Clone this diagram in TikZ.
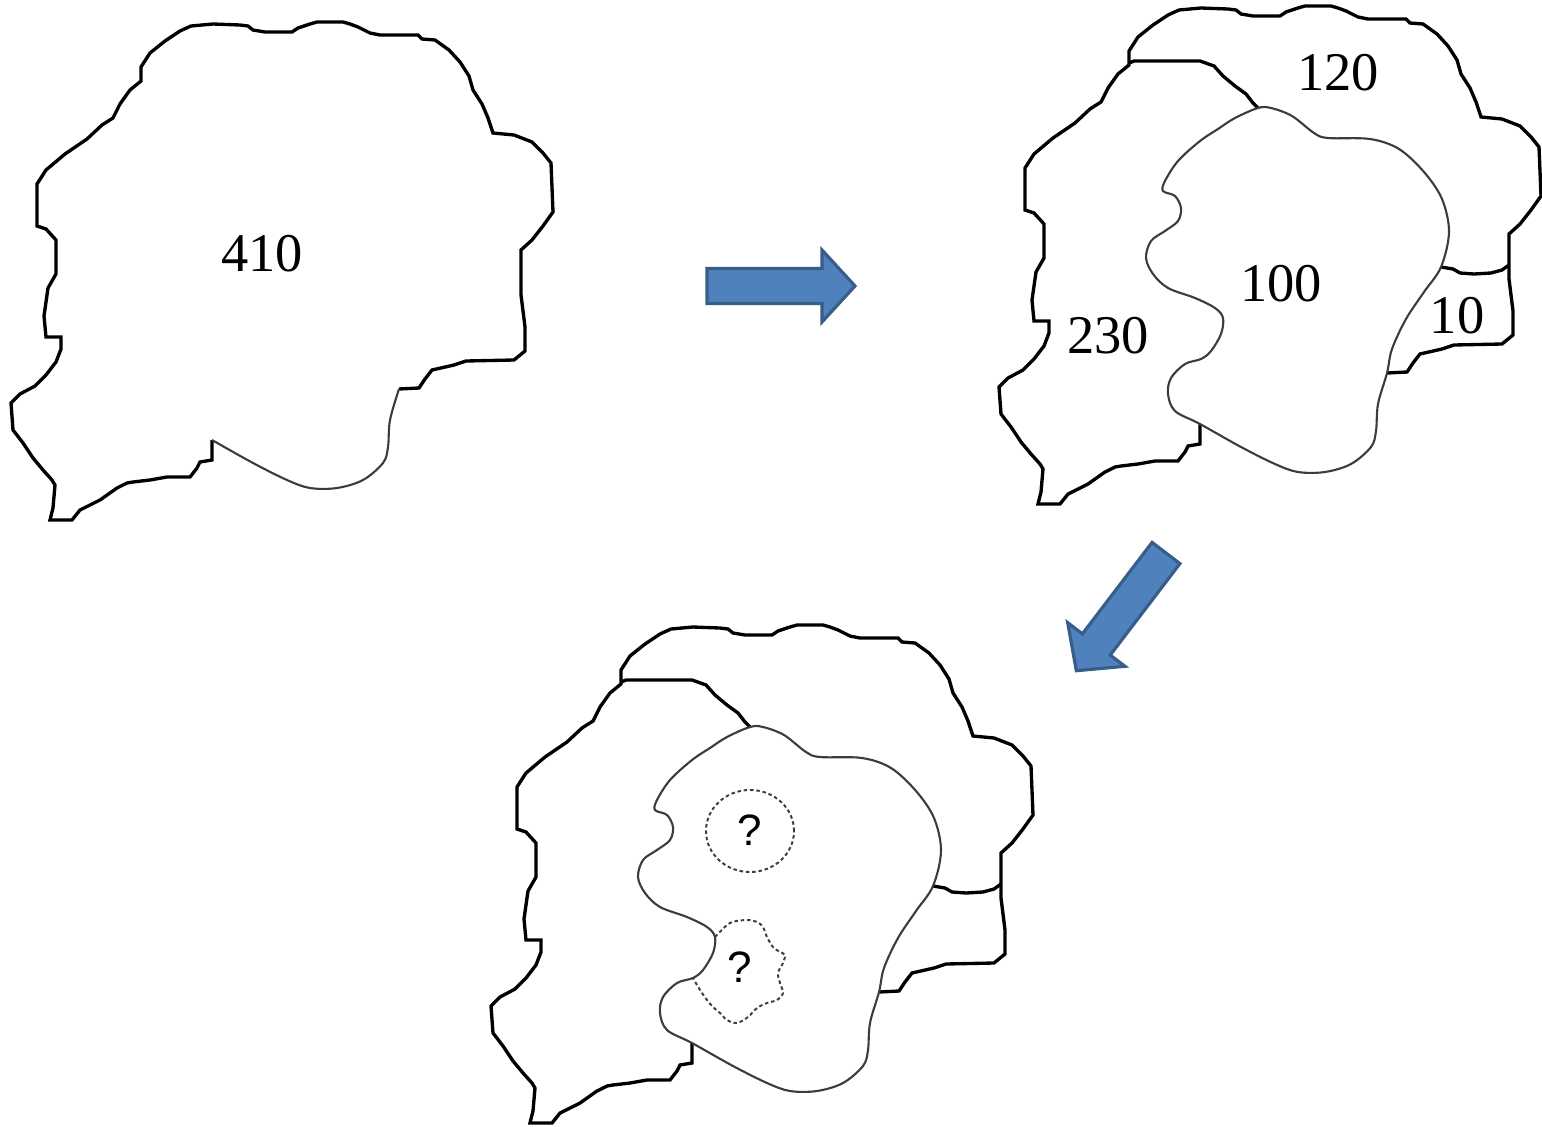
\documentclass[tikz,border=0pt]{standalone}
\usepackage{fontspec}
\setmainfont{Liberation Serif}
\setsansfont{Liberation Sans}
\usepackage{tikz}
\definecolor{arrowblue}{RGB}{79,129,189}
\definecolor{arrowedge}{RGB}{56,93,138}
\definecolor{lakegrey}{RGB}{60,60,60}
\tikzset{
  rim/.style={draw=black,line width=0.95pt},
  lake/.style={draw=lakegrey,line width=0.6pt},
  guess/.style={draw=lakegrey,line width=0.55pt,dash pattern=on 1pt off 0.8pt},
  count/.style={inner sep=0pt,font=\fontsize{15.5}{18}\selectfont},
  ask/.style={inner sep=0pt,font=\sffamily\fontsize{12.5}{15}\selectfont},
  bigarrow/.style={fill=arrowblue,draw=arrowedge,line width=0.9pt}
}
% outer catchment border, open where the lake cuts it
\newcommand{\basinrim}{%
  \draw[rim] (212,440) -- (212,460) -- (200,462) -- (197,468) -- (190,477)
    -- (167,477) -- (150,480) -- (133,482) -- (127,483) -- (117,488)
    -- (100,500) -- (80,510) -- (72,520) -- (50,520) -- (53,508) -- (55,485)
    -- (52,480) -- (43,470) -- (33,458) -- (23,443) -- (13,430) -- (11,403)
    -- (20,394) -- (35,386) -- (46,375) -- (56,362) -- (61,349) -- (61,337)
    -- (46,337) -- (44,316) -- (48,288) -- (56,274) -- (56,240) -- (46,229)
    -- (37,226) -- (37,184) -- (46,170) -- (65,154) -- (87,139) -- (102,125)
    -- (113,118) -- (120,104) -- (130,90) -- (141,81) -- (141,67) -- (150,53)
    -- (165,41) -- (180,31) -- (191,26) -- (213,24) -- (240,25) -- (248,26)
    -- (253,30) -- (265,32) -- (292,32) -- (298,28) -- (310,24) -- (317,22)
    -- (343,22) -- (350,24) -- (358,27) -- (370,33) -- (380,35) -- (418,35)
    -- (422,39) -- (435,40) -- (449,50) -- (460,62) -- (469,76) -- (473,90)
    -- (482,104) -- (488,118) -- (493,133) -- (514,135) -- (532,142)
    -- (543,153) -- (551,163) -- (553,212) -- (543,226) -- (532,240)
    -- (521,250) -- (521,295) -- (525,327) -- (525,351) -- (514,360)
    -- (466,361) -- (454,365) -- (432,370) -- (425,379) -- (419,388)
    -- (399,389);}
% inner sub-basin borders
\newcommand{\basinsplit}{%
  \draw[rim] (141,79) -- (146,77) -- (212,77) -- (226,82) -- (235,92)
    -- (247,102) -- (258,110) -- (265,119) -- (270,124);
  \draw[rim] (453,283) -- (465,285) -- (472,289) -- (486,290) -- (503,289)
    -- (514,286) -- (521,281);}
% the lake
\newcommand{\drawlake}{%
  \draw[lake] plot[smooth cycle,tension=0.55] coordinates {
    (270,124) (283,124) (304,132) (326,149) (340,154) (382,155) (411,165)
    (436,188) (454,215) (461,248) (453,283) (436,308) (418,335) (404,365)
    (399,389) (390,420) (388,447) (383,463) (363,480) (337,488) (310,488)
    (287,480) (253,463) (212,440) (187,427) (180,410) (183,394) (197,380)
    (213,375) (223,367) (233,350) (235,334) (227,324) (207,314) (180,304)
    (165,290) (158,274) (163,257) (177,247) (190,237) (193,224) (187,212)
    (175,207) (177,197) (190,177) (212,157) (230,145) (247,134)};}
\newcommand{\blockarrow}{%
  \draw[bigarrow] (0,-17.5) -- (115,-17.5) -- (115,-36) -- (148,0)
    -- (115,36) -- (115,17.5) -- (0,17.5) -- cycle;}

\begin{document}
\begin{tikzpicture}[x=0.01cm,y=-0.01cm]
  \useasboundingbox (0,0) rectangle (1542,1127);

  % first stage: the whole basin
  \basinrim
  \draw[lake] plot[smooth,tension=0.55] coordinates {
    (399,389) (390,420) (388,447) (383,463) (363,480) (337,488) (310,488)
    (287,480) (253,463) (212,440)};
  \node[count] (n410) at (262,254) {410};

  % second stage: split into sub-basins
  \begin{scope}[shift={(988,-16)}]
    \basinrim
    \basinsplit
    \drawlake
    \node[count] (n120) at (350,89) {120};
    \node[count] (n100) at (293,300) {100};
    \node[count] (n230) at (120,352) {230};
    \node[count] (n10) at (469,332) {10};
  \end{scope}

  % third stage: unknown parts inside the lake
  \begin{scope}[shift={(480,603)}]
    \basinrim
    \basinsplit
    \drawlake
    \draw[guess] (270,228) ellipse [x radius=0.44cm,y radius=0.41cm];
    \draw[guess] plot[smooth,tension=0.55] coordinates {
      (235,334) (250,320) (267,317) (277,319) (283,324) (287,334) (293,344)
      (300,349) (305,352) (303,360) (298,370) (300,380) (303,390) (297,397)
      (287,400) (277,405) (268,414) (257,420) (247,417) (240,410) (233,404)
      (227,397) (220,387) (213,375)};
    \node[ask] (q1) at (270,227) {?};
    \node[ask] (q2) at (260,364) {?};
  \end{scope}

  \begin{scope}[shift={(707,286)}]
    \blockarrow
  \end{scope}
  \begin{scope}[shift={(1166,553)},rotate=232.7]
    \blockarrow
  \end{scope}
\end{tikzpicture}
\end{document}
